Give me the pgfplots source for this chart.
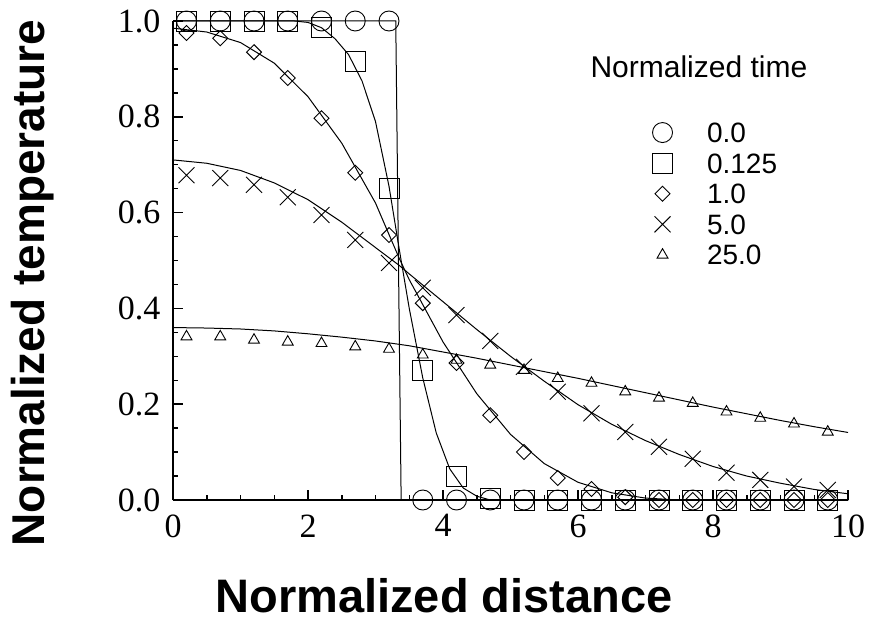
\documentclass[border=0pt]{standalone}
\usepackage{pgfplots}
\pgfplotsset{compat=1.18}
\usepackage{fontspec}
\setmainfont{Liberation Serif}
\newfontfamily\hel{Liberation Sans}
\begin{document}
\begin{tikzpicture}
\useasboundingbox (-173pt,-124pt) rectangle (696pt,500pt);
\begin{axis}[
  at={(0pt,0pt)}, anchor=south west,
  scale only axis, width=675pt, height=479pt,
  xmin=0, xmax=10, ymin=0, ymax=1,
  axis x line=bottom, axis y line=left,
  axis line style={-, line width=2pt},
  clip=false,
  xtick={0,2,4,6,8,10},
  ytick={0,0.2,0.4,0.6,0.8,1},
  minor x tick num=3, minor y tick num=3,
  tick align=inside,
  major tick length=10pt, minor tick length=5pt,
  every tick/.style={black, line width=1.5pt},
  /pgf/number format/assume math mode=true,
  xticklabel style={font=\fontsize{34}{40}\selectfont, yshift=-11pt},
  yticklabel style={font=\fontsize{34}{40}\selectfont, xshift=-9pt,
     /pgf/number format/fixed, /pgf/number format/fixed zerofill, /pgf/number format/precision=1},
  legend style={draw=none, fill=none, at={(0.7104,0.7880)}, anchor=north west,
     inner sep=0pt, outer sep=0pt, row sep=10.6pt, column sep=34.5pt,
     font=\hel\fontsize{28}{34}\selectfont,
     nodes={inner sep=0pt, text height=20pt, text depth=0pt}},
  legend cell align=left,
  legend image code/.code={\draw[#1] plot coordinates {(0pt,0pt)};},
]
% ---- analytic curves ----
\addplot[black, line width=1pt, forget plot] coordinates {
 (0,1) (3.30,1) (3.38,0) (10,0)};
\addplot[black, line width=1pt, forget plot] coordinates {
 (0,1) (1.8,1) (2.0,0.997) (2.2,0.986) (2.4,0.963) (2.6,0.93) (2.8,0.875) (3.0,0.79)
 (3.2,0.655) (3.35,0.525) (3.5,0.40) (3.7,0.255) (3.9,0.14) (4.1,0.065) (4.3,0.025)
 (4.5,0.008) (4.7,0) (10,0)};
\addplot[black, line width=1pt, forget plot] coordinates {
 (0,0.985) (0.5,0.977) (1.0,0.955) (1.5,0.912) (2.0,0.842) (2.5,0.745) (3.0,0.62)
 (3.35,0.505) (3.5,0.46) (4.0,0.33) (4.5,0.222) (5.0,0.137) (5.5,0.076) (6.0,0.037)
 (6.5,0.015) (7.0,0.004) (7.5,0) (10,0)};
\addplot[black, line width=1pt, forget plot] coordinates {
 (0,0.71) (0.5,0.703) (1.0,0.688) (1.5,0.662) (2.0,0.627) (2.5,0.58) (3.0,0.527)
 (3.35,0.49) (3.5,0.472) (4.0,0.414) (4.5,0.356) (5.0,0.30) (5.5,0.248) (6.0,0.199)
 (6.5,0.158) (7.0,0.124) (7.5,0.095) (8.0,0.07) (8.5,0.05) (9.0,0.035) (9.5,0.022) (10,0.013)};
\addplot[black, line width=1pt, forget plot] coordinates {
 (0,0.36) (0.5,0.359) (1.0,0.357) (1.5,0.353) (2.0,0.347) (2.5,0.34) (3.0,0.332)
 (3.5,0.322) (4.0,0.309) (4.5,0.296) (5.0,0.282) (5.5,0.268) (6.0,0.254) (6.5,0.239)
 (7.0,0.224) (7.5,0.209) (8.0,0.194) (8.5,0.18) (9.0,0.166) (9.5,0.153) (10,0.141)};
% ---- numerical points ----
\addplot[black, only marks, mark=o, mark size=10pt, line width=0.9pt] table {
x y
0.2 1
0.7 1
1.2 1
1.7 1
2.2 1
2.7 1
3.2 1
3.7 0
4.2 0
4.7 0
5.2 0
5.7 0
6.2 0
6.7 0
7.2 0
7.7 0
8.2 0
8.7 0
9.2 0
9.7 0
};
\addlegendentry{0.0}
\addplot[black, only marks, mark=square, mark size=10pt, line width=0.9pt] table {
x y
0.2 1
0.7 1
1.2 1
1.7 1
2.2 0.987
2.7 0.916
3.2 0.651
3.7 0.271
4.2 0.050
4.7 0.003
5.2 0
5.7 0
6.2 0
6.7 0
7.2 0
7.7 0
8.2 0
8.7 0
9.2 0
9.7 0
};
\addlegendentry{0.125}
\addplot[black, only marks, mark=square, mark size=5.3pt, mark options={rotate=45}, line width=0.9pt] table {
x y
0.2 0.975
0.7 0.964
1.2 0.935
1.7 0.881
2.2 0.797
2.7 0.683
3.2 0.553
3.7 0.411
4.2 0.286
4.7 0.177
5.2 0.100
5.7 0.046
6.2 0.023
6.7 0.006
7.2 0
7.7 0
8.2 0
8.7 0
9.2 0
9.7 0
};
\addlegendentry{1.0}
\addplot[black, only marks, mark=x, mark size=11.3pt, line width=0.9pt] table {
x y
0.2 0.678
0.7 0.672
1.2 0.658
1.7 0.632
2.2 0.595
2.7 0.543
3.2 0.495
3.7 0.443
4.2 0.386
4.7 0.332
5.2 0.278
5.7 0.226
6.2 0.181
6.7 0.142
7.2 0.111
7.7 0.086
8.2 0.057
8.7 0.042
9.2 0.028
9.7 0.021
};
\addlegendentry{5.0}
\addplot[black, only marks, mark=triangle, mark size=6.3pt, line width=0.9pt] table {
x y
0.2 0.341
0.7 0.341
1.2 0.334
1.7 0.330
2.2 0.327
2.7 0.320
3.2 0.315
3.7 0.303
4.2 0.292
4.7 0.282
5.2 0.271
5.7 0.254
6.2 0.244
6.7 0.226
7.2 0.213
7.7 0.202
8.2 0.184
8.7 0.171
9.2 0.159
9.7 0.142
};
\addlegendentry{25.0}
\end{axis}
\node[font=\hel\bfseries\fontsize{47}{56}\selectfont, anchor=base] at (271pt,-112pt) {Normalized distance};
\node[font=\hel\bfseries\fontsize{46}{56}\selectfont, rotate=90, anchor=base] at (-128pt,217pt) {Normalized temperature};
\node[font=\hel\fontsize{30}{36}\selectfont, anchor=base west] at (414pt,422pt) {Normalized time};
\end{tikzpicture}
\end{document}
